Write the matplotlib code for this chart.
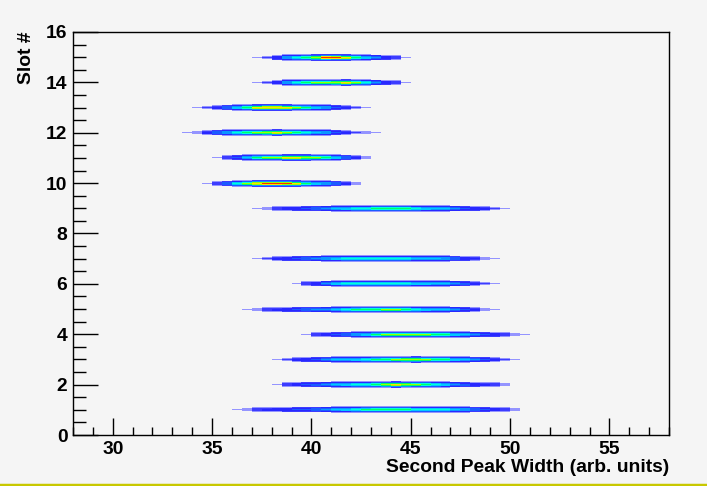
import numpy as np
import matplotlib
matplotlib.use('Agg')
import matplotlib.pyplot as plt
from matplotlib.colors import ListedColormap, BoundaryNorm
from matplotlib.ticker import MultipleLocator
from matplotlib.lines import Line2D

# ---- data ----
slots = [15, 14, 13, 12, 11, 10, 9, 7, 6, 5, 4, 3, 2, 1]
slot_start = [37.0, 37.0, 34.0, 33.5, 35.0, 34.5, 37.0, 37.0, 39.0, 36.5, 39.5, 38.0, 38.0, 36.0]
slot_profiles = [
    [0.07, 0.12, 0.25, 0.45, 0.6, 0.68, 0.78, 0.95, 0.92, 0.8, 0.7, 0.55, 0.4, 0.25, 0.15, 0.07],
    [0.07, 0.12, 0.22, 0.45, 0.62, 0.7, 0.72, 0.75, 0.76, 0.8, 0.72, 0.6, 0.42, 0.25, 0.15, 0.07],
    [0.07, 0.12, 0.2, 0.35, 0.55, 0.7, 0.8, 0.86, 0.87, 0.84, 0.72, 0.65, 0.55, 0.45, 0.3, 0.2, 0.12, 0.07],
    [0.07, 0.1, 0.2, 0.35, 0.45, 0.6, 0.7, 0.74, 0.76, 0.8, 0.75, 0.7, 0.6, 0.5, 0.45, 0.3, 0.2, 0.12, 0.08, 0.07],
    [0.07, 0.15, 0.3, 0.5, 0.65, 0.72, 0.75, 0.8, 0.8, 0.78, 0.72, 0.7, 0.55, 0.35, 0.2, 0.08],
    [0.07, 0.15, 0.35, 0.6, 0.75, 0.85, 0.9, 0.92, 0.88, 0.8, 0.65, 0.55, 0.45, 0.35, 0.2, 0.08],
    [0.07, 0.1, 0.15, 0.22, 0.25, 0.3, 0.35, 0.4, 0.5, 0.55, 0.6, 0.62, 0.68, 0.7, 0.7, 0.68, 0.6, 0.55, 0.52, 0.5,
     0.4, 0.3, 0.25, 0.2, 0.12, 0.07],
    [0.07, 0.12, 0.2, 0.25, 0.3, 0.35, 0.4, 0.45, 0.55, 0.58, 0.6, 0.6, 0.6, 0.6, 0.58, 0.58, 0.52, 0.5, 0.48, 0.45,
     0.35, 0.25, 0.18, 0.1, 0.07],
    [0.07, 0.15, 0.25, 0.4, 0.55, 0.6, 0.6, 0.62, 0.62, 0.62, 0.6, 0.6, 0.55, 0.55, 0.52, 0.5, 0.4, 0.32, 0.2, 0.12, 0.07],
    [0.07, 0.1, 0.15, 0.2, 0.25, 0.3, 0.35, 0.38, 0.42, 0.52, 0.58, 0.65, 0.7, 0.7, 0.72, 0.72, 0.7, 0.6, 0.55, 0.52,
     0.5, 0.4, 0.3, 0.2, 0.1, 0.07],
    [0.07, 0.15, 0.22, 0.28, 0.35, 0.45, 0.55, 0.65, 0.72, 0.75, 0.75, 0.75, 0.72, 0.7, 0.68, 0.55, 0.5, 0.4, 0.3,
     0.25, 0.15, 0.1, 0.07],
    [0.07, 0.12, 0.2, 0.25, 0.3, 0.38, 0.5, 0.52, 0.55, 0.58, 0.65, 0.7, 0.72, 0.76, 0.78, 0.74, 0.7, 0.66, 0.55, 0.5,
     0.38, 0.28, 0.2, 0.12, 0.07],
    [0.07, 0.15, 0.22, 0.28, 0.32, 0.4, 0.5, 0.55, 0.58, 0.62, 0.7, 0.76, 0.8, 0.76, 0.72, 0.7, 0.6, 0.55, 0.42, 0.32,
     0.25, 0.2, 0.15, 0.08],
    [0.07, 0.1, 0.15, 0.2, 0.22, 0.25, 0.28, 0.3, 0.35, 0.4, 0.5, 0.55, 0.62, 0.65, 0.66, 0.68, 0.68, 0.66, 0.62, 0.6,
     0.6, 0.58, 0.5, 0.45, 0.35, 0.28, 0.22, 0.15, 0.08],
]
band_weights = [0.15, 0.45, 0.85, 1.0, 0.9, 0.5, 0.15]
x_bin = 0.5
x_ticks = [30, 35, 40, 45, 50, 55]
y_ticks = [0, 2, 4, 6, 8, 10, 12, 14, 16]
x_title = "Second Peak Width (arb. units)"
y_title = "Slot #"

# ---- histogram (one y row per screen pixel) ----
y_bin = 16.0 / 403
x_edges = np.arange(28.0, 58.0 + 1e-9, x_bin)
y_edges = np.linspace(0.0, 16.0, 404)
H = np.zeros((len(y_edges) - 1, len(x_edges) - 1))
half = len(band_weights) // 2
for s, x0, prof in zip(slots, slot_start, slot_profiles):
    i0 = int(round((x0 - 28.0) / x_bin))
    jc = int(s / y_bin)
    for k, w in enumerate(band_weights):
        j = jc + half - k
        H[j, i0:i0 + len(prof)] = np.array(prof) * w

Hm = np.ma.masked_less(H, 0.065)

bounds = [0.065, 0.115, 0.18, 0.28, 0.38, 0.47, 0.56, 0.64, 0.72, 0.8, 0.88, 1.01]
colors = ['#9494ff', '#3c3cff', '#2828ff', '#1a5cff', '#0a96ff', '#00c8ff',
          '#00ffd8', '#00ff66', '#9cff00', '#ffe000', '#ff2a00']
cmap = ListedColormap(colors)
norm = BoundaryNorm(bounds, cmap.N)

bg = '#f5f5f5'
fig = plt.figure(figsize=(7.07, 4.86), dpi=100, facecolor=bg)
ax = fig.add_axes([73 / 707, 51 / 486, 596 / 707, 403 / 486], facecolor=bg)
ax.pcolormesh(x_edges, y_edges, Hm, cmap=cmap, norm=norm, shading='flat',
              antialiased=False, linewidth=0)

ax.set_xlim(28, 58)
ax.set_ylim(0, 16)
ax.set_xticks(x_ticks)
ax.set_yticks(y_ticks)
ax.xaxis.set_minor_locator(MultipleLocator(1))
ax.yaxis.set_minor_locator(MultipleLocator(0.5))

fp = dict(family=['Liberation Sans', 'DejaVu Sans'], weight='bold', size=13.9)
ax.xaxis.set_tick_params(which='major', direction='in', length=12, width=1, pad=4)
ax.xaxis.set_tick_params(which='minor', direction='in', length=6, width=1)
ax.yaxis.set_tick_params(which='major', direction='in', length=18, width=1, pad=4)
ax.yaxis.set_tick_params(which='minor', direction='in', length=9, width=1)
for lab in ax.get_xticklabels() + ax.get_yticklabels():
    lab.set_fontfamily(fp['family'])
    lab.set_fontweight('bold')
    lab.set_fontsize(fp['size'])
for sp in ax.spines.values():
    sp.set_color('black')
    sp.set_linewidth(1)

ax.set_xlabel(x_title, fontdict=fp, loc='right', labelpad=1)
ax.set_ylabel(y_title, fontdict=fp, loc='top', labelpad=8)

fig.add_artist(Line2D([0, 1], [1.5 / 486, 1.5 / 486], transform=fig.transFigure,
                      color='#c8c800', linewidth=2.5))

fig.savefig('out.png', dpi=100, facecolor=bg)
